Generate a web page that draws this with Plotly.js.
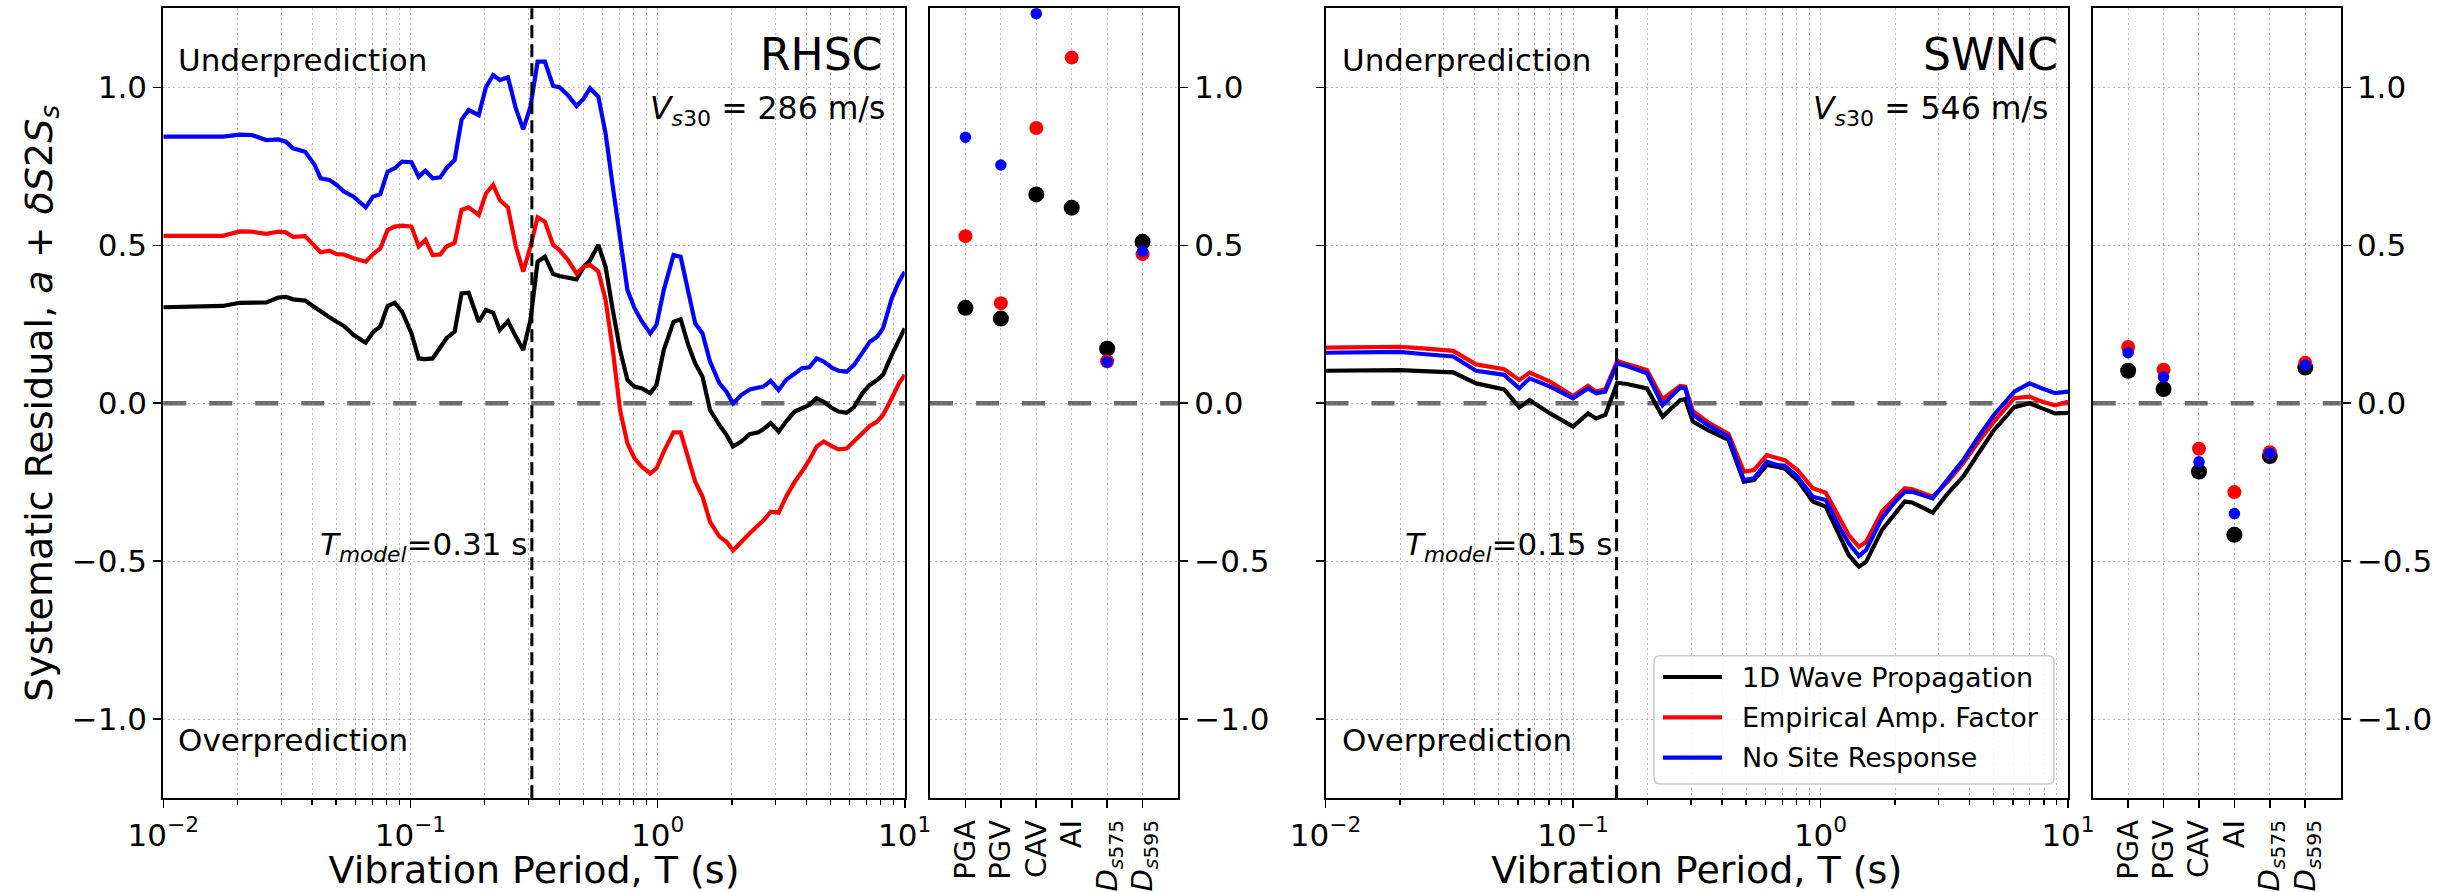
<!DOCTYPE html>
<html><head><meta charset="utf-8">
<script src="https://cdn.plot.ly/plotly-3.0.1.min.js"></script>
<style>html,body{margin:0;padding:0;background:#fff}#chart{width:2450px;height:892px}</style>
</head><body><div id="chart"></div>
<script>
// ---------------- DATA ----------------
const seriesNames = ['1D Wave Propagation', 'Empirical Amp. Factor', 'No Site Response'];
const seriesColors = ['#000000', '#ff0000', '#0000ff'];
const siteNames = ['RHSC', 'SWNC'];
const vs30 = [286, 546];
const tModel = [0.31, 0.15];

// RHSC spectral residuals
const periodRHSC = [0.010,0.0174,0.0204,0.0228,0.0261,0.0292,0.0313,0.0335,0.0375,0.0410,0.0433,0.0470,0.0503,0.0538,0.0589,0.0659,0.0706,0.0755,0.0808,0.0864,0.0925,0.101,0.108,0.115,0.123,0.132,0.140,0.151,0.161,0.172,0.189,0.202,0.216,0.230,0.248,0.267,0.286,0.306,0.327,0.350,0.378,0.401,0.433,0.470,0.503,0.533,0.576,0.616,0.659,0.705,0.755,0.807,0.864,0.934,0.990,1.06,1.16,1.24,1.33,1.42,1.52,1.63,1.78,1.90,2.02,2.18,2.36,2.56,2.68,2.87,3.09,3.31,3.59,3.84,4.11,4.40,4.70,5.11,5.40,5.82,6.23,6.76,7.23,7.74,8.17,8.86,9.48,10.0];
const rhscWave = [0.304,0.308,0.318,0.318,0.319,0.335,0.337,0.329,0.325,0.304,0.290,0.272,0.258,0.245,0.216,0.192,0.225,0.243,0.308,0.318,0.290,0.221,0.142,0.140,0.142,0.174,0.206,0.227,0.348,0.350,0.258,0.295,0.287,0.232,0.260,0.211,0.169,0.264,0.448,0.464,0.409,0.403,0.399,0.392,0.432,0.453,0.501,0.432,0.295,0.169,0.074,0.053,0.047,0.032,0.058,0.169,0.258,0.266,0.185,0.126,0.084,-0.021,-0.069,-0.100,-0.137,-0.121,-0.098,-0.092,-0.082,-0.063,-0.090,-0.058,-0.026,-0.016,-0.005,0.016,0.005,-0.016,-0.026,-0.030,-0.013,0.034,0.058,0.074,0.090,0.153,0.200,0.237];
const rhscEmp = [0.530,0.530,0.544,0.543,0.536,0.543,0.541,0.527,0.529,0.496,0.478,0.483,0.472,0.471,0.459,0.448,0.472,0.490,0.548,0.559,0.562,0.559,0.496,0.517,0.469,0.471,0.496,0.508,0.612,0.620,0.596,0.664,0.691,0.643,0.620,0.496,0.417,0.496,0.589,0.575,0.501,0.485,0.454,0.411,0.432,0.438,0.417,0.327,0.169,-0.021,-0.127,-0.174,-0.201,-0.222,-0.206,-0.153,-0.092,-0.092,-0.174,-0.248,-0.295,-0.375,-0.422,-0.438,-0.466,-0.438,-0.411,-0.385,-0.371,-0.343,-0.346,-0.296,-0.248,-0.216,-0.180,-0.137,-0.121,-0.137,-0.146,-0.143,-0.121,-0.095,-0.072,-0.058,-0.037,0.016,0.063,0.090];
const rhscNoSite = [0.844,0.844,0.850,0.849,0.833,0.835,0.828,0.807,0.796,0.754,0.712,0.707,0.691,0.670,0.654,0.620,0.654,0.662,0.733,0.744,0.765,0.763,0.717,0.736,0.712,0.715,0.744,0.770,0.897,0.928,0.912,1.000,1.039,1.023,1.032,0.933,0.867,0.939,1.081,1.081,1.004,1.000,0.976,0.941,0.965,0.997,0.970,0.854,0.686,0.517,0.359,0.301,0.259,0.221,0.248,0.359,0.469,0.464,0.348,0.253,0.221,0.132,0.063,0.037,0.000,0.026,0.044,0.051,0.053,0.071,0.042,0.074,0.095,0.111,0.114,0.142,0.132,0.111,0.103,0.100,0.121,0.163,0.195,0.211,0.237,0.332,0.385,0.416];

// SWNC spectral residuals
const periodSWNC = [0.010,0.0199,0.0247,0.0291,0.0328,0.0406,0.0527,0.0607,0.0668,0.0808,0.100,0.115,0.124,0.135,0.151,0.165,0.199,0.230,0.271,0.284,0.305,0.351,0.425,0.490,0.539,0.607,0.668,0.717,0.807,0.931,1.05,1.18,1.30,1.43,1.53,1.77,1.99,2.19,2.35,2.84,3.27,3.77,4.35,5.02,6.07,6.99,7.87,8.87,10.0];
const swncWave = [0.103,0.105,0.102,0.100,0.098,0.063,0.044,-0.013,0.010,-0.032,-0.074,-0.032,-0.048,-0.037,0.065,0.061,0.047,-0.042,0.010,0.013,-0.058,-0.085,-0.116,-0.248,-0.243,-0.195,-0.201,-0.206,-0.243,-0.311,-0.327,-0.411,-0.480,-0.517,-0.501,-0.401,-0.354,-0.311,-0.314,-0.346,-0.285,-0.232,-0.158,-0.085,-0.012,0.000,-0.016,-0.032,-0.030];
const swncEmp = [0.176,0.179,0.174,0.171,0.166,0.123,0.108,0.074,0.097,0.069,0.023,0.055,0.037,0.044,0.134,0.124,0.105,0.013,0.055,0.053,-0.024,-0.060,-0.097,-0.216,-0.211,-0.164,-0.174,-0.180,-0.211,-0.269,-0.283,-0.359,-0.417,-0.454,-0.438,-0.343,-0.301,-0.269,-0.272,-0.296,-0.248,-0.190,-0.121,-0.058,0.016,0.021,0.005,-0.006,0.005];
const swncNoSite = [0.160,0.163,0.156,0.153,0.148,0.103,0.090,0.047,0.079,0.053,0.016,0.047,0.032,0.037,0.126,0.118,0.095,-0.006,0.050,0.047,-0.037,-0.069,-0.106,-0.243,-0.237,-0.185,-0.195,-0.198,-0.232,-0.296,-0.306,-0.385,-0.443,-0.483,-0.464,-0.364,-0.314,-0.280,-0.280,-0.301,-0.243,-0.180,-0.106,-0.037,0.037,0.063,0.047,0.032,0.037];

// Intensity-measure residuals
const imCategories = ['PGA', 'PGV', 'CAV', 'AI', 'Ds575', 'Ds595'];
const imTickText = ['PGA', 'PGV', 'CAV', 'AI', '<i>D</i><sub><i>s</i>575</sub>', '<i>D</i><sub><i>s</i>595</sub>'];
const rhscImWave = [0.302, 0.268, 0.661, 0.619, 0.173, 0.511];
const rhscImEmp = [0.529, 0.317, 0.871, 1.094, 0.133, 0.472];
const rhscImNoSite = [0.842, 0.754, 1.233, null, 0.131, 0.481];
const swncImWave = [0.103, 0.045, -0.216, -0.416, -0.167, 0.113];
const swncImEmp = [0.178, 0.106, -0.144, -0.281, -0.155, 0.128];
const swncImNoSite = [0.160, 0.083, -0.185, -0.349, -0.158, 0.121];

// Axis tick labels
const xTickVals = [0.01, 0.1, 1, 10];
const xTickText = ['10<sup>\u22122</sup>', '10<sup>\u22121</sup>', '10<sup>0</sup>', '10<sup>1</sup>'];
const yRange = [-1.25, 1.25];

// ---------------- LAYOUT HELPERS ----------------
const W = 2450, H = 892;
const FONT = 'DejaVu Sans, Verdana, sans-serif';
const GRID = 'rgba(135,135,135,0.6)';
const GDASH = '2px,3px';
const PX = v => v / W, PY = v => 1 - v / H;
const dom = {
  x1: [PX(163.3), PX(904.7)], x2: [PX(930), PX(1178)],
  x3: [PX(1325.5), PX(2068)], x4: [PX(2092.7), PX(2340.7)],
  y: [PY(798.3), PY(8.3)]
};
const minorVals = [];
[0.01, 0.1, 1].forEach(d => { for (let m = 2; m <= 9; m++) minorVals.push(+(d * m).toPrecision(3)); });

function mainX(domain, anchor) {
  return {
    type: 'log', domain, anchor, range: [-2, 1],
    showline: true, mirror: true, linecolor: 'black', linewidth: 2,
    ticks: 'outside', ticklen: 8, tickwidth: 1.6, tickcolor: 'black',
    tickmode: 'array', tickvals: xTickVals, ticktext: xTickText,
    tickfont: {size: 31, color: 'black'},
    showgrid: true, gridcolor: GRID, gridwidth: 1, griddash: GDASH, zeroline: false,
    minor: {tickmode: 'array', tickvals: minorVals, ticks: 'outside', ticklen: 4.5, tickwidth: 1.2, tickcolor: 'black',
            showgrid: true, gridcolor: GRID, gridwidth: 1, griddash: GDASH},
    title: {text: 'Vibration Period, T (s)', font: {size: 38, color: 'black'}, standoff: 10}
  };
}
function smallX(domain, anchor) {
  return {
    type: 'category', domain, anchor, range: [-1, 6],
    categoryorder: 'array', categoryarray: imCategories,
    tickmode: 'array', tickvals: imCategories, ticktext: imTickText, tickangle: -90,
    showline: true, mirror: true, linecolor: 'black', linewidth: 2,
    ticks: 'outside', ticklen: 8, tickwidth: 1.6, tickcolor: 'black',
    tickfont: {size: 29, color: 'black'},
    showgrid: true, gridcolor: GRID, gridwidth: 1, griddash: GDASH, zeroline: false
  };
}
function yAx(anchor, side, showLabels, title) {
  const a = {
    domain: dom.y, anchor, side, range: yRange, tick0: 0, dtick: 0.5, tickformat: '.1f',
    showline: true, mirror: true, linecolor: 'black', linewidth: 2,
    ticks: 'outside', ticklen: 8, tickwidth: 1.6, tickcolor: 'black',
    showticklabels: showLabels, tickfont: {size: 31, color: 'black'},
    showgrid: true, gridcolor: GRID, gridwidth: 1, griddash: GDASH, zeroline: false
  };
  if (title) a.title = {text: title, font: {size: 38, color: 'black'}, standoff: 8};
  return a;
}

// ---------------- TRACES ----------------
const traces = [];
function addLines(period, arrs, xa, ya) {
  arrs.forEach((arr, i) => traces.push({
    type: 'scatter', mode: 'lines', x: period, y: arr, xaxis: xa, yaxis: ya,
    name: seriesNames[i], showlegend: false, line: {color: seriesColors[i], width: 4.2}
  }));
}
const markerSizes = [16, 14, 11.5];
function addDots(arrs, xa, ya) {
  arrs.forEach((arr, i) => traces.push({
    type: 'scatter', mode: 'markers', x: imCategories, y: arr, xaxis: xa, yaxis: ya,
    name: seriesNames[i], showlegend: false,
    marker: {color: seriesColors[i], size: markerSizes[i], line: {width: 0}}
  }));
}
addLines(periodRHSC, [rhscWave, rhscEmp, rhscNoSite], 'x', 'y');
addDots([rhscImWave, rhscImEmp, rhscImNoSite], 'x2', 'y2');
addLines(periodSWNC, [swncWave, swncEmp, swncNoSite], 'x3', 'y3');
addDots([swncImWave, swncImEmp, swncImNoSite], 'x4', 'y4');

// ---------------- SHAPES ----------------
const shapes = [];
[['x', 'y'], ['x2', 'y2'], ['x3', 'y3'], ['x4', 'y4']].forEach(([xa, ya]) => shapes.push({
  type: 'line', xref: xa + ' domain', yref: ya, x0: 0, x1: 1, y0: 0, y1: 0,
  line: {color: '#6a6a6a', width: 4.5, dash: '23px,23px'}, layer: 'below'
}));
[['x', 'y', 0], ['x3', 'y3', 1]].forEach(([xa, ya, k]) => shapes.push({
  type: 'line', xref: xa, yref: ya + ' domain', x0: tModel[k], x1: tModel[k], y0: 0, y1: 1,
  line: {color: 'black', width: 3, dash: '13px,6px'}, layer: 'above'
}));
// legend box (manual)
function rr(x0, y0, x1, y1, r) {
  const X = v => PX(v).toFixed(5), Y = v => PY(v).toFixed(5);
  return `M${X(x0 + r)},${Y(y0)} L${X(x1 - r)},${Y(y0)} Q${X(x1)},${Y(y0)} ${X(x1)},${Y(y0 + r)} ` +
         `L${X(x1)},${Y(y1 - r)} Q${X(x1)},${Y(y1)} ${X(x1 - r)},${Y(y1)} L${X(x0 + r)},${Y(y1)} ` +
         `Q${X(x0)},${Y(y1)} ${X(x0)},${Y(y1 - r)} L${X(x0)},${Y(y0 + r)} Q${X(x0)},${Y(y0)} ${X(x0 + r)},${Y(y0)} Z`;
}
shapes.push({type: 'path', xref: 'paper', yref: 'paper', path: rr(1654, 655.7, 2054, 784, 6),
  fillcolor: 'rgba(255,255,255,0.85)', line: {color: '#cccccc', width: 1.6}, layer: 'above'});
const legendRows = [677, 717.3, 757.7];
legendRows.forEach((yy, i) => shapes.push({type: 'line', xref: 'paper', yref: 'paper',
  x0: PX(1663), x1: PX(1722), y0: PY(yy), y1: PY(yy), line: {color: seriesColors[i], width: 4.2}, layer: 'above'}));

// ---------------- ANNOTATIONS ----------------
const ann = [];
function txt(text, x, y, xanchor, size, extra) {
  ann.push(Object.assign({text, xref: 'paper', yref: 'paper', x: PX(x), y: PY(y), xanchor, yanchor: 'middle',
    showarrow: false, font: {size, color: 'black', family: FONT}}, extra || {}));
}
const panelLeft = [176, 1339.5];
const siteRight = [884, 2060];
const vsRight = [887, 2050];
[0, 1].forEach(k => {
  txt('Underprediction', panelLeft[k], 60, 'left', 31);
  txt('Overprediction', panelLeft[k], 740, 'left', 31);
  txt(siteNames[k], siteRight[k], 54.5, 'right', 44);
  txt('<i>V</i><sub><i>s</i>30</sub> = ' + vs30[k] + ' m/s', vsRight[k], 111, 'right', 31.5);
  ann.push({text: '<i>T</i><sub><i>model</i></sub>=' + tModel[k] + ' s', xref: k ? 'x3' : 'x', yref: 'paper',
    x: Math.log10(tModel[k]), y: PY(546.5), xanchor: 'right', yanchor: 'middle', xshift: -3,
    showarrow: false, font: {size: 31, color: 'black', family: FONT}});
});
legendRows.forEach((yy, i) => txt(seriesNames[i], 1740, yy, 'left', 27));

const layout = {
  width: W, height: H, margin: {l: 0, r: 0, t: 0, b: 0},
  paper_bgcolor: 'white', plot_bgcolor: 'white',
  font: {family: FONT, color: 'black'},
  showlegend: false,
  xaxis: mainX(dom.x1, 'y'),
  xaxis2: smallX(dom.x2, 'y2'),
  xaxis3: mainX(dom.x3, 'y3'),
  xaxis4: smallX(dom.x4, 'y4'),
  yaxis: yAx('x', 'left', true, 'Systematic Residual, <i>a</i> + <i>\u03B4S</i>2<i>S</i><sub><i>s</i></sub>'),
  yaxis2: yAx('x2', 'right', true),
  yaxis3: yAx('x3', 'left', false),
  yaxis4: yAx('x4', 'right', true),
  shapes, annotations: ann
};
Plotly.newPlot('chart', traces, layout, {displayModeBar: false, staticPlot: true});
</script></body></html>
